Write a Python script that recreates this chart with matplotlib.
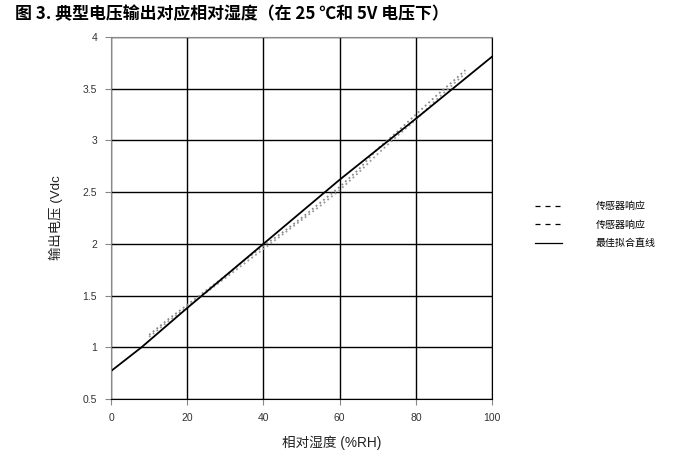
import matplotlib
matplotlib.use('Agg')
import matplotlib.pyplot as plt
from matplotlib.lines import Line2D

plt.rcParams['font.family'] = ['Liberation Sans', 'Noto Sans CJK SC', 'DejaVu Sans']

# 最佳拟合直线
fit_x = [0, 8, 20, 40, 60, 80, 100]
fit_y = [0.77, 1.0, 1.38, 2.0, 2.62, 3.21, 3.81]

# 传感器响应（两条）
rh = [10, 15, 20, 25, 30, 35, 40, 45, 50, 55, 60, 65, 70, 75, 80, 85, 90, 93]
sensor_a = [1.12, 1.27, 1.41, 1.55, 1.69, 1.84, 1.98, 2.11, 2.25, 2.40,
            2.55, 2.72, 2.92, 3.08, 3.25, 3.42, 3.58, 3.68]
sensor_b = [1.10, 1.25, 1.39, 1.53, 1.67, 1.81, 1.95, 2.09, 2.23, 2.37,
            2.52, 2.69, 2.87, 3.04, 3.20, 3.38, 3.55, 3.65]

xticks = [0, 20, 40, 60, 80, 100]
yticks = [0.5, 1, 1.5, 2, 2.5, 3, 3.5, 4]
ytick_labels = ['0.5', '1', '1.5', '2', '2.5', '3', '3.5', '4']
legend_labels = ['传感器响应', '传感器响应', '最佳拟合直线']

fig = plt.figure(figsize=(7, 4.61), dpi=100)
ax = fig.add_axes([0.1586, 0.1345, 0.5443, 0.7852])

ax.plot(rh, sensor_a, ':', color='#888888', lw=1.3)
ax.plot(rh, sensor_b, ':', color='#999999', lw=1.3)
ax.plot(fit_x, fit_y, '-', color='black', lw=1.3)

ax.set_xlim(0, 100)
ax.set_ylim(0.5, 4)
ax.set_xticks(xticks)
ax.set_yticks(yticks)
ax.set_yticklabels(ytick_labels)
ax.grid(True, color='black', lw=1.0)
ax.set_axisbelow(True)
ax.tick_params(direction='out', length=4, color='#888888', labelsize=7.5,
               labelcolor='#333333', pad=6)
ax.spines['left'].set_color('#888888')
ax.spines['top'].set_color('#888888')
ax.spines['bottom'].set_color('black')
ax.spines['right'].set_color('black')

ax.set_ylabel('输出电压 (Vdc', fontsize=9.6, color='#222222', labelpad=14)
fig.text(332 / 700, 1 - 443 / 461, '相对湿度 (%RH)', fontsize=9.8,
         color='#222222', ha='center', va='center')

fig.text(15 / 700, 1 - 14 / 461, '图 3. 典型电压输出对应相对湿度（在 25 ℃和 5V 电压下）',
         fontsize=12.2, fontweight='bold', family=['Noto Sans CJK SC'],
         ha='left', va='center')

# 图例：虚线 / 实线
handles = [Line2D([], [], color='black', ls=(0, (4.0, 4.0)), lw=0.9),
           Line2D([], [], color='black', ls=(0, (4.0, 4.0)), lw=0.9),
           Line2D([], [], color='black', ls='-', lw=0.9)]
fig.legend(handles, legend_labels, loc='upper left',
           bbox_to_anchor=(535 / 700, 1 - 201 / 461), frameon=False,
           fontsize=7.2, handlelength=2.7, handletextpad=3.4, labelspacing=0.85,
           borderpad=0, borderaxespad=0)

fig.savefig('out.png', dpi=100)
